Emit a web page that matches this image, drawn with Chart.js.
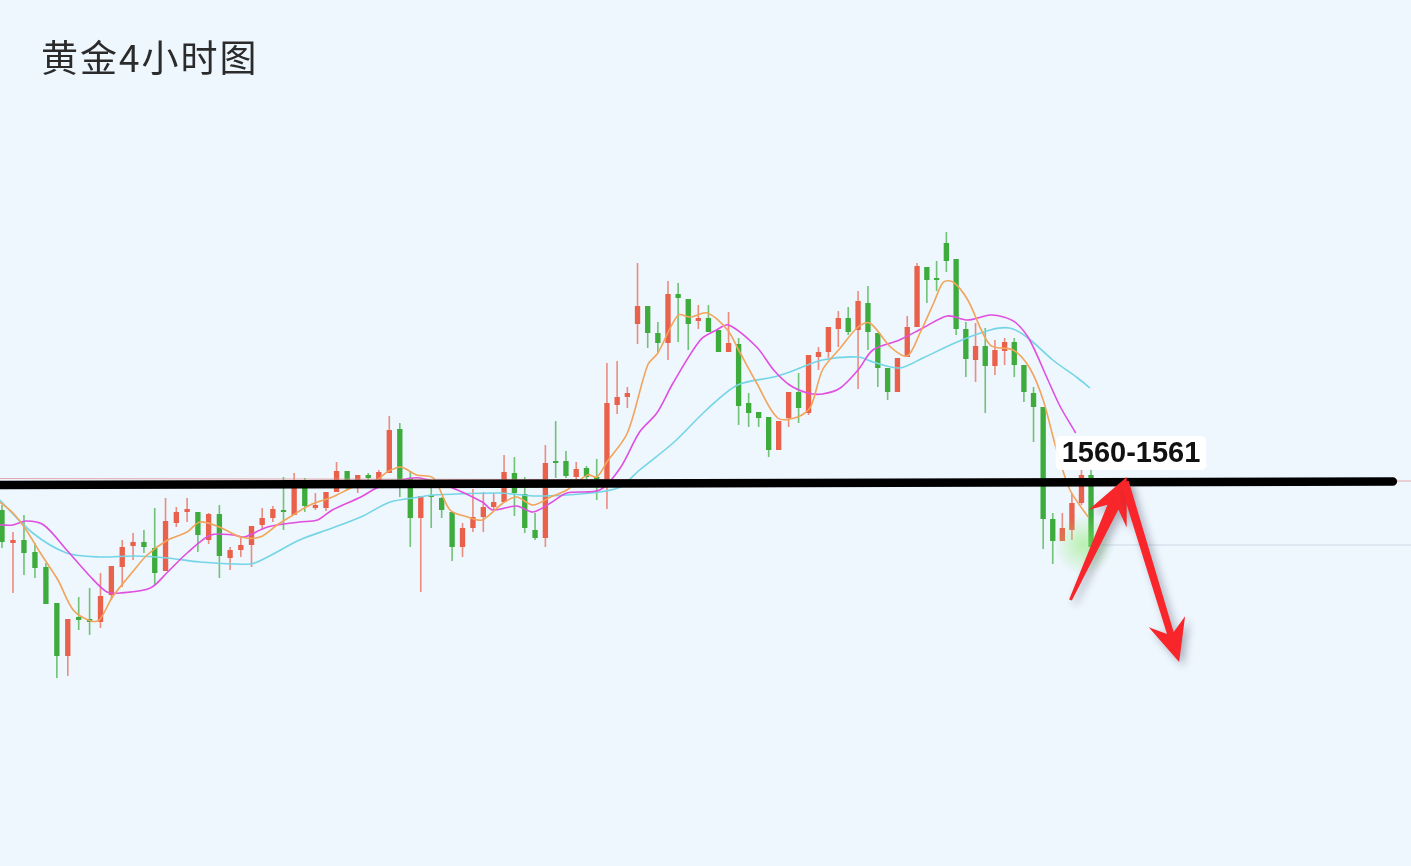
<!DOCTYPE html>
<html lang="zh">
<head>
  <meta charset="UTF-8" />
  <title>黄金4小时图</title>
  <script src="https://cdn.jsdelivr.net/npm/chart.js"></script>
  <style>
    html, body { margin: 0; padding: 0; background: #eef6fe; }
    .wrap { position: relative; width: 1411px; height: 866px; overflow: hidden; }
    .title {
      position: absolute; left: 41px; top: 38px;
      font: 37px "Noto Sans CJK SC", sans-serif; line-height: 1;
      letter-spacing: 2px; color: #2b2b2b;
    }
    canvas { position: absolute; left: 0; top: 0; }
  </style>
</head>
<body>
<div class="wrap">
  <canvas id="kline" width="1411" height="866"></canvas>
  <div class="title">黄金4小时图</div>
</div>

<script>
  // 4h candles (price units)
  const opens = [1557.6,1554.3,1554.6,1553.4,1551.9,1548.3,1543.0,1546.9,1546.7,1546.4,
    1549.1,1551.9,1554.0,1554.4,1553.8,1551.5,1556.3,1557.4,1557.4,1554.6,
    1557.2,1552.8,1553.6,1554.1,1556.1,1556.8,1557.6,1557.1,1560.6,1557.8,
    1557.8,1559.4,1561.5,1560.6,1561.1,1560.6,1561.3,1565.7,1560.8,1556.8,
    1559.0,1558.8,1557.4,1553.9,1555.8,1556.9,1557.9,1558.4,1561.3,1559.2,
    1555.6,1554.8,1562.4,1562.5,1560.9,1561.8,1560.9,1559.9,1568.1,1568.9,
    1576.2,1578.0,1575.3,1574.3,1579.2,1578.7,1576.5,1576.8,1575.6,1573.4,
    1574.2,1568.3,1567.4,1566.9,1563.6,1566.8,1569.4,1567.3,1572.9,1573.4,
    1575.7,1576.8,1575.6,1578.3,1575.3,1571.8,1569.4,1572.9,1575.9,1581.9,
    1580.8,1584.3,1582.7,1575.7,1572.6,1574.0,1572.0,1573.5,1574.4,1572.1,
    1569.3,1567.9,1556.7,1554.5,1555.6,1558.3,1561.1];
  const closes = [1554.4,1554.6,1553.3,1551.8,1548.2,1543.0,1546.7,1546.6,1546.4,1549.0,
    1552.0,1553.9,1554.4,1553.9,1551.3,1556.5,1557.4,1557.7,1555.1,1557.2,
    1553.0,1553.6,1554.1,1556.0,1556.8,1557.7,1557.4,1560.4,1558.0,1558.1,
    1559.4,1561.5,1560.6,1561.1,1560.8,1561.4,1565.6,1560.6,1556.8,1559.0,
    1558.9,1557.6,1553.9,1555.8,1556.9,1557.9,1558.4,1561.4,1559.3,1555.8,
    1554.8,1562.3,1562.3,1561.0,1561.7,1560.9,1559.9,1568.3,1568.9,1569.3,
    1578.0,1575.3,1574.3,1579.2,1578.8,1576.2,1576.8,1575.4,1573.4,1574.3,
    1568.0,1567.3,1566.8,1563.6,1566.5,1569.4,1567.8,1573.1,1573.4,1575.9,
    1576.8,1575.4,1578.5,1575.4,1571.8,1569.4,1572.8,1575.9,1582.0,1580.6,
    1580.6,1582.5,1575.7,1572.7,1574.0,1572.0,1573.6,1574.4,1572.1,1569.4,
    1567.9,1556.7,1554.5,1555.8,1558.3,1561.1,1553.9];
  const highs = [1558.1,1555.4,1557.1,1554.3,1552.3,1548.3,1546.7,1548.9,1549.8,1551.3,
    1552.0,1554.6,1555.3,1555.6,1557.8,1558.8,1557.9,1558.8,1557.4,1557.3,
    1558.1,1553.9,1554.9,1556.0,1557.8,1558.0,1560.9,1561.3,1560.8,1559.3,
    1559.4,1562.4,1561.5,1561.1,1561.3,1561.6,1567.0,1566.3,1561.4,1559.0,
    1559.8,1558.9,1557.4,1556.3,1559.7,1559.4,1559.3,1563.1,1562.9,1560.9,
    1557.3,1564.1,1566.5,1563.5,1562.4,1562.0,1562.7,1572.3,1572.5,1569.9,
    1582.3,1578.0,1576.4,1580.5,1580.3,1578.7,1578.1,1578.1,1575.6,1577.4,
    1574.8,1569.3,1567.4,1566.9,1566.5,1569.4,1571.3,1573.1,1573.9,1575.9,
    1577.5,1577.9,1579.5,1580.0,1575.3,1571.8,1572.8,1577.0,1582.3,1581.9,
    1582.5,1585.4,1582.7,1576.4,1576.3,1575.8,1574.6,1574.8,1574.8,1572.1,
    1569.9,1567.9,1557.3,1557.3,1559.3,1561.6,1561.6];
  const lows = [1553.8,1549.3,1551.1,1550.8,1548.2,1540.8,1541.0,1545.6,1545.1,1545.8,
    1548.6,1549.9,1552.6,1553.3,1550.1,1551.5,1555.9,1556.4,1553.4,1554.2,
    1550.8,1551.6,1552.9,1551.9,1555.6,1556.4,1555.6,1557.1,1557.4,1557.6,
    1557.5,1559.4,1559.6,1559.3,1560.3,1560.4,1561.3,1558.9,1553.9,1549.4,
    1555.8,1556.8,1552.5,1552.9,1555.4,1555.4,1557.6,1558.4,1557.0,1555.3,
    1554.6,1553.9,1560.8,1560.8,1560.7,1560.7,1558.6,1557.7,1567.2,1567.8,
    1574.2,1573.8,1573.4,1572.6,1574.4,1573.6,1575.7,1575.4,1573.4,1573.4,
    1566.1,1565.9,1565.9,1562.9,1563.6,1565.9,1566.3,1567.1,1571.6,1572.8,
    1573.9,1575.1,1569.7,1573.6,1569.9,1568.6,1569.4,1572.9,1575.9,1578.3,
    1579.5,1581.4,1575.1,1570.9,1570.4,1567.3,1571.1,1572.1,1570.9,1568.4,
    1564.4,1553.7,1552.2,1554.5,1554.6,1558.1,1552.7];

  // moving average lines, [candle position, price]
  const maFast = [[-0.2,1558.4],[1.0,1557.3],[2.2,1555.6],[3.5,1553.3],[5.1,1550.6],[6.5,1547.6],
    [8.1,1546.5],[8.9,1546.6],[10.1,1548.9],[12.1,1551.6],[13.3,1553.1],[15.2,1554.6],[17.0,1555.4],
    [18.2,1556.4],[20.0,1555.9],[22.0,1554.9],[23.8,1554.9],[25.4,1556.1],[26.9,1557.1],[28.5,1558.1],
    [30.6,1558.9],[32.6,1559.9],[34.8,1560.6],[35.8,1561.4],[37.1,1561.9],[38.6,1561.1],[40.2,1560.8],
    [41.8,1557.6],[43.5,1556.9],[44.9,1556.6],[46.9,1558.3],[48.2,1558.9],[49.8,1558.1],[51.5,1558.9],
    [53.1,1559.6],[55.1,1561.1],[56.0,1560.9],[57.0,1562.4],[59.0,1565.3],[61.0,1572.1],[62.0,1573.3],
    [64.0,1577.1],[65.2,1576.9],[66.9,1577.3],[68.9,1575.6],[70.0,1573.6],[71.8,1570.3],[73.9,1566.8],
    [75.9,1566.9],[77.2,1567.9],[78.4,1571.6],[80.2,1573.8],[82.0,1575.9],[83.2,1576.3],[85.3,1573.9],
    [87.0,1573.0],[88.3,1575.3],[89.7,1578.3],[90.7,1580.4],[91.7,1580.4],[93.2,1578.6],[95.5,1574.1],
    [97.9,1573.6],[99.6,1571.8],[101.0,1568.6],[102.4,1563.6],[103.8,1559.6],[105.7,1556.9]];
  const maMid = [[-0.2,1556.1],[1.0,1556.1],[2.2,1556.5],[3.8,1556.1],[5.9,1553.6],[8.1,1550.9],
    [9.6,1549.4],[10.8,1549.3],[13.6,1549.8],[15.2,1551.4],[17.0,1553.3],[19.2,1555.1],[21.3,1555.1],
    [22.3,1554.9],[24.5,1555.9],[27.5,1556.4],[29.2,1556.6],[30.6,1557.6],[33.3,1558.9],[34.8,1559.8],
    [37.1,1560.6],[38.9,1560.8],[41.8,1559.9],[44.9,1558.4],[45.9,1557.6],[48.2,1558.0],[49.8,1557.4],
    [51.5,1558.3],[53.1,1559.3],[56.3,1559.6],[58.3,1561.8],[60.2,1565.4],[61.9,1567.3],[63.5,1570.3],
    [66.2,1574.6],[67.8,1575.6],[69.0,1576.1],[71.8,1573.9],[73.5,1571.6],[75.1,1570.1],[76.9,1569.3],
    [78.4,1569.2],[80.2,1569.8],[82.0,1571.6],[83.5,1573.6],[86.2,1574.6],[88.6,1575.8],[91.1,1577.0],
    [93.2,1576.6],[95.5,1577.1],[96.9,1576.9],[98.2,1576.3],[99.6,1574.6],[101.5,1570.6],[102.8,1567.9],
    [104.4,1565.3]];
  const maSlow = [[-0.2,1558.6],[2.8,1555.3],[5.9,1553.3],[8.9,1552.9],[12.1,1553.0],[15.2,1552.8],
    [18.2,1552.4],[22.9,1552.2],[24.5,1552.9],[27.5,1554.6],[30.6,1555.8],[33.3,1556.9],[36.1,1558.4],
    [38.9,1558.9],[40.2,1559.1],[46.6,1559.3],[49.8,1559.0],[53.1,1559.1],[56.3,1559.4],[58.3,1559.9],
    [60.2,1561.6],[63.5,1564.3],[66.8,1567.6],[69.9,1570.1],[73.5,1570.9],[75.1,1571.4],[78.4,1572.6],
    [82.0,1572.9],[83.5,1572.4],[86.2,1571.8],[88.6,1572.8],[92.1,1574.4],[95.5,1575.6],[97.5,1575.8],
    [99.3,1574.9],[102.0,1572.6],[104.6,1570.8],[105.9,1569.8]];

  // annotations
  const levelLine = [[-0.2,1560.1],[138.4,1560.45]];
  const levelThin = [[-0.2,1560.75],[140.5,1560.5]];
  const priceLine = [[106.4,1554.1],[140.5,1554.1]];
  const levelLabel = '1560-1561';
  const labelAt = [110.2,1563.3];
  const arrowUp = [[103.85,1548.6],[109.75,1560.9]];
  const arrowDown = [[109.5,1560.4],[115.3,1542.4]];
  const glowAt = [105.25,1554.1];

  const X_MIN = -0.18, X_MAX = 140.4;
  const WARP = 0.097;   // the screenshot's candle spacing narrows slightly to the right

  class WarpScale extends Chart.LinearScale {
    getPixelForValue(value) {
      const t = (value - this.min) / (this.max - this.min);
      return this.left + this.width * (t + WARP * t * (1 - t));
    }
    getValueForPixel(pixel) {
      const s = (pixel - this.left) / this.width;
      const t = ((1 + WARP) - Math.sqrt((1 + WARP) * (1 + WARP) - 4 * WARP * s)) / (2 * WARP);
      return this.min + t * (this.max - this.min);
    }
  }
  WarpScale.id = 'warp';
  WarpScale.defaults = Chart.LinearScale.defaults;
  Chart.register(WarpScale);

  const RED = '#e9604b', GREEN = '#3dac3d';
  const idx = opens.map((_, i) => i);
  const rising = idx.map(i => closes[i] >= opens[i]);
  const toXY = arr => arr.map(([x, y]) => ({ x, y }));

  function drawArrow(ctx, [x0, y0], [x1, y1], w0, w1, headLen, headHalf) {
    const L = Math.hypot(x1 - x0, y1 - y0);
    const ux = (x1 - x0) / L, uy = (y1 - y0) / L;
    const nx = -uy, ny = ux;
    const jx = x1 - ux * headLen * 0.72, jy = y1 - uy * headLen * 0.72;
    const bx = x1 - ux * headLen, by = y1 - uy * headLen;
    ctx.beginPath();
    ctx.moveTo(x0 + nx * w0 / 2, y0 + ny * w0 / 2);
    ctx.lineTo(jx + nx * w1 / 2, jy + ny * w1 / 2);
    ctx.lineTo(bx + nx * headHalf, by + ny * headHalf);
    ctx.lineTo(x1, y1);
    ctx.lineTo(bx - nx * headHalf, by - ny * headHalf);
    ctx.lineTo(jx - nx * w1 / 2, jy - ny * w1 / 2);
    ctx.lineTo(x0 - nx * w0 / 2, y0 - ny * w0 / 2);
    ctx.closePath();
    ctx.fill();
  }

  const annotate = {
    id: 'annotate',
    afterDatasetsDraw(chart) {
      const { ctx, scales: { x, y } } = chart;
      const px = ([a, b]) => [x.getPixelForValue(a), y.getPixelForValue(b)];
      ctx.save();

      // soft green glow on the last candle
      const [gx, gy] = px(glowAt);
      const g = ctx.createRadialGradient(gx, gy, 0, gx, gy, 30);
      g.addColorStop(0, 'rgba(140,235,110,0.55)');
      g.addColorStop(1, 'rgba(140,235,110,0)');
      ctx.fillStyle = g;
      ctx.fillRect(gx - 30, gy - 30, 60, 60);

      // level label
      ctx.font = 'bold 29px "Liberation Sans", Arial, sans-serif';
      const [lx, ly] = px(labelAt);
      const tw = ctx.measureText(levelLabel).width;
      ctx.fillStyle = 'rgba(255,255,255,0.95)';
      ctx.beginPath();
      ctx.roundRect(lx - tw / 2 - 6, ly - 17, tw + 12, 34, 5);
      ctx.fill();
      ctx.fillStyle = '#111';
      ctx.textAlign = 'center';
      ctx.textBaseline = 'middle';
      ctx.fillText(levelLabel, lx, ly + 1);

      // arrows
      ctx.shadowColor = 'rgba(40,40,60,0.35)';
      ctx.shadowBlur = 8;
      ctx.shadowOffsetX = 4;
      ctx.shadowOffsetY = 4;
      ctx.fillStyle = '#f8262a';
      drawArrow(ctx, px(arrowUp[0]), px(arrowUp[1]), 3, 12, 46, 21);
      drawArrow(ctx, px(arrowDown[0]), px(arrowDown[1]), 9, 7, 42, 19);
      ctx.restore();
    }
  };

  const lineDs = (data, color, width, order, extra) => Object.assign({
    type: 'line', data: toXY(data), borderColor: color, borderWidth: width,
    pointRadius: 0, fill: false, order
  }, extra || {});

  new Chart(document.getElementById('kline').getContext('2d'), {
    type: 'bar',
    data: {
      datasets: [
        {
          label: 'wick',
          data: idx.map(i => ({ x: i, y: [lows[i], highs[i]] })),
          backgroundColor: idx.map(i => rising[i] ? 'rgba(233,96,75,0.7)' : 'rgba(61,172,61,0.7)'),
          barPercentage: 0.17, categoryPercentage: 1, grouped: false, order: 7
        },
        {
          label: 'body',
          data: idx.map(i => ({ x: i, y: [opens[i], closes[i]] })),
          backgroundColor: idx.map(i => rising[i] ? RED : GREEN),
          barPercentage: 0.56, categoryPercentage: 1, grouped: false, minBarLength: 2, order: 6
        },
        lineDs(maSlow, '#74d5e6', 1.6, 5, { tension: 0.3 }),
        lineDs(maMid, '#e04fe0', 1.6, 4, { tension: 0.3 }),
        lineDs(maFast, '#f2a45a', 1.6, 3, { tension: 0.3 }),
        lineDs(priceLine, 'rgba(200,214,230,0.9)', 1, 2),
        lineDs(levelThin, 'rgba(222,150,150,0.8)', 1, 2),
        lineDs(levelLine, '#000', 8.5, 1, { borderCapStyle: 'round' })
      ]
    },
    options: {
      responsive: false,
      animation: false,
      layout: { padding: 0 },
      scales: {
        x: { type: 'warp', min: X_MIN, max: X_MAX, offset: false, display: false },
        y: { min: 1522.0, max: 1608.6, display: false }
      },
      plugins: { legend: { display: false }, tooltip: { enabled: false } }
    },
    plugins: [annotate]
  });
</script>
</body>
</html>
